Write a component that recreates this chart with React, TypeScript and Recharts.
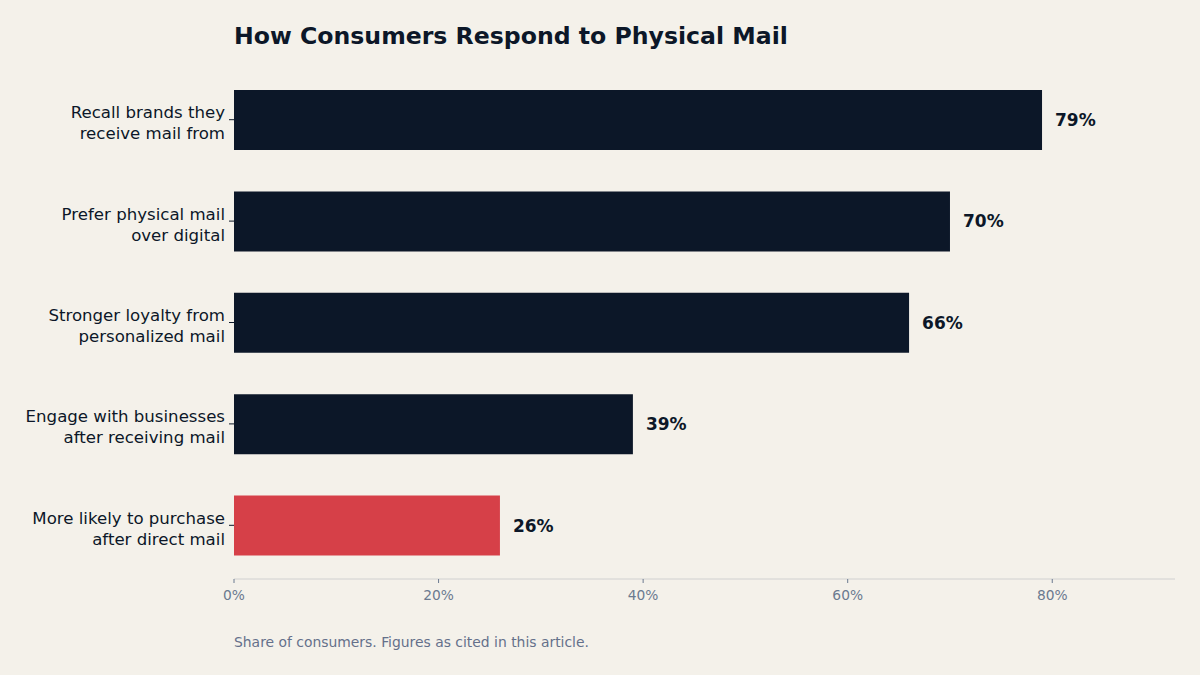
import React from "react";
import { BarChart, Bar, XAxis, YAxis, Cell, LabelList } from "recharts";

const categories = [
  "Recall brands they|receive mail from",
  "Prefer physical mail|over digital",
  "Stronger loyalty from|personalized mail",
  "Engage with businesses|after receiving mail",
  "More likely to purchase|after direct mail",
];
const values = [79, 70, 66, 39, 26];
const highlight = [false, false, false, false, true];
const xTicks = [0, 20, 40, 60, 80];

const data = categories.map((c, i) => ({ name: c, value: values[i], hl: highlight[i] }));

const FONT = "'DejaVu Sans', sans-serif";
const DARK = "#0c1728";
const RED = "#d64048";

const YTick = (props: any) => {
  const { x, y, payload } = props;
  const lines = String(payload.value).split("|");
  const ax = x + 8;
  return (
    <g>
      <line x1={ax - 5} x2={ax} y1={y} y2={y} stroke={DARK} strokeWidth={1} />
      <text x={ax - 9} y={y} textAnchor="end" fontFamily={FONT} fontSize={16.6} fill={DARK}>
        {lines.map((l, i) => (
          <tspan key={i} x={ax - 9} dy={i === 0 ? -1.5 : 21}>
            {l}
          </tspan>
        ))}
      </text>
    </g>
  );
};

export default function App() {
  return (
    <div style={{ position: "absolute", left: 0, top: 0, width: 1200, height: 675, background: "#f4f1ea", fontFamily: FONT }}>
      <div style={{ position: "absolute", left: 234, top: 21, fontSize: 23.6, fontWeight: "bold", color: DARK, lineHeight: "30px" }}>
        How Consumers Respond to Physical Mail
      </div>
      <BarChart
        width={1200}
        height={675}
        data={data}
        layout="vertical"
        margin={{ top: 69, right: 25, bottom: 66, left: 0 }}
      >
        <XAxis
          type="number"
          domain={[0, 92]}
          ticks={xTicks}
          tickFormatter={(v: number) => `${v}%`}
          stroke="#d0d0d0"
          tickSize={4}
          tickMargin={7}
          tickLine={{ stroke: "#6b7a90" }}
          tick={{ fill: "#6b7a90", fontSize: 13.8, fontFamily: FONT }}
          height={30}
          allowDataOverflow
        />
        <YAxis
          type="category"
          dataKey="name"
          width={234}
          axisLine={false}
          tickLine={false}
          tick={<YTick />}
          interval={0}
          padding={{ top: 0, bottom: 3 }}
        />
        <Bar dataKey="value" barSize={60} isAnimationActive={false}>
          {data.map((d, i) => (
            <Cell key={i} fill={d.hl ? RED : DARK} />
          ))}
          <LabelList
            dataKey="value"
            position="right"
            offset={13}
            formatter={(v: any) => `${v}%`}
            style={{ fontFamily: FONT, fontSize: 17, fontWeight: "bold", fill: DARK }}
          />
        </Bar>
      </BarChart>
      <div style={{ position: "absolute", left: 234, top: 633, fontSize: 13.9, color: "#64708a", lineHeight: "18px" }}>
        Share of consumers. Figures as cited in this article.
      </div>
    </div>
  );
}
